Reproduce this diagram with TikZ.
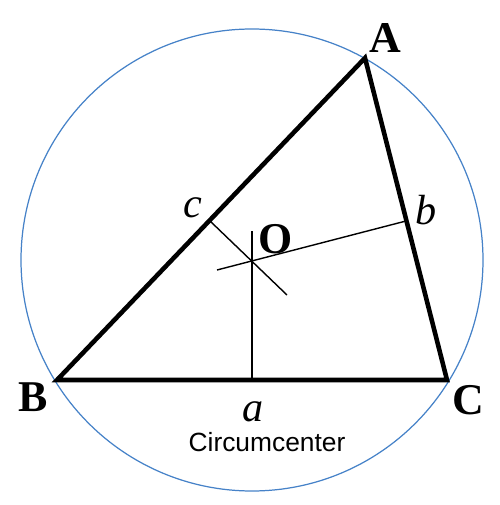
\documentclass[tikz,border=0pt]{standalone}
\usepackage{fontspec}
\setmainfont{Liberation Serif}
\newfontfamily\sansfont{Liberation Sans}
\usetikzlibrary{positioning, calc}
\definecolor{circblue}{RGB}{70,130,200}
\begin{document}
\begin{tikzpicture}[
  vertex/.style={font=\fontsize{25}{25}\selectfont\bfseries, inner sep=0pt},
  side/.style={font=\fontsize{24}{24}\selectfont\itshape, inner sep=0pt},
  edge/.style={line width=2.6pt, line join=miter},
  bisector/.style={line width=0.8pt}]
  \useasboundingbox (0,0) rectangle (10,10.1);
  % Circle
  \coordinate (O) at (5.04,4.90);
  \draw[circblue, line width=0.7pt] (O) circle (4.62);
  % Vertices and feet
  \coordinate (A) at (7.30,8.94);
  \coordinate (B) at (1.14,2.50);
  \coordinate (C) at (8.94,2.50);
  \coordinate (fa) at (5.04,2.50);
  \coordinate (ta) at (5.04,5.48);
  \coordinate (fc) at (4.20,5.68);
  \coordinate (tc) at (5.74,4.20);
  \coordinate (fb) at (8.12,5.68);
  \coordinate (tb) at (4.34,4.70);
  % Triangle
  \draw[edge] (A) -- (B) -- (C) -- cycle;
  % Bisectors
  \draw[bisector] (fa) -- (ta);
  \draw[bisector] (fc) -- (tc);
  \draw[bisector] (fb) -- (tb);
  % Labels
  \node[vertex] (lA) at (7.70,9.34) {A};
  \node[vertex] (lB) at (0.66,2.16) {B};
  \node[vertex] (lC) at (9.36,2.10) {C};
  \node[vertex] (lO) at (5.52,5.32) {O};
  \node[side] (la) at (5.06,1.86) {a};
  \node[side] (lb) at (8.52,5.90) {b};
  \node[side] (lc) at (3.86,5.94) {c};
  \node[font=\sansfont\fontsize{15}{15}\selectfont] (cap) at (5.34,1.26) {Circumcenter};
\end{tikzpicture}
\end{document}
